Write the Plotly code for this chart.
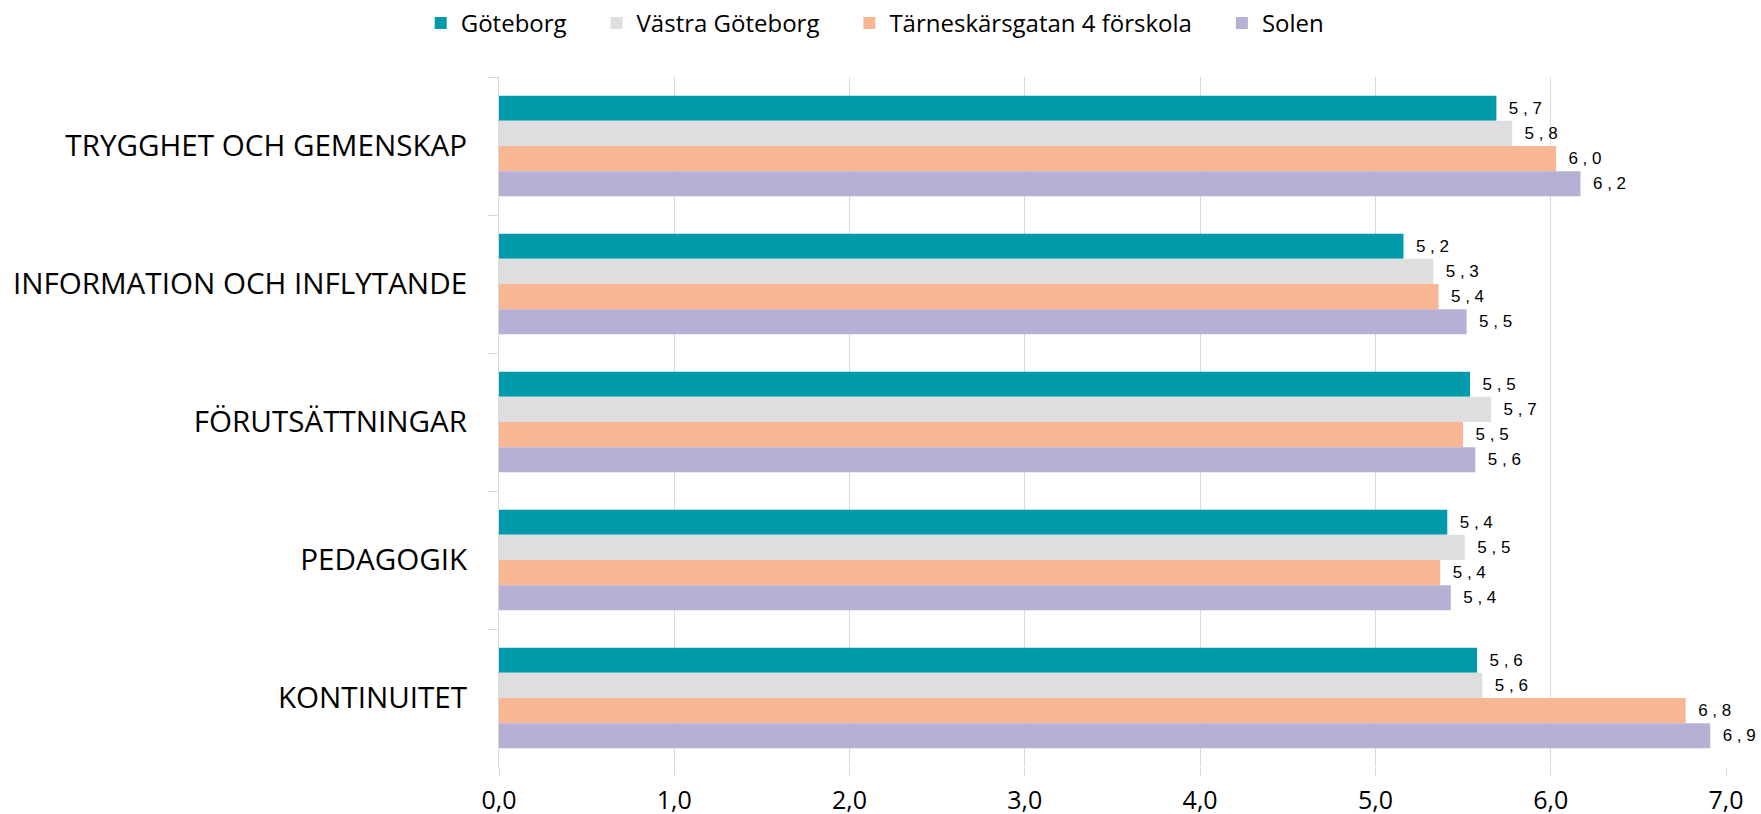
import plotly.graph_objects as go

categories = ["TRYGGHET OCH GEMENSKAP", "INFORMATION OCH INFLYTANDE", "FÖRUTSÄTTNINGAR", "PEDAGOGIK", "KONTINUITET"]
series_names = ["Göteborg", "Västra Göteborg", "Tärneskärsgatan 4 förskola", "Solen"]
goteborg = [5.69, 5.16, 5.54, 5.41, 5.58]
vastra = [5.78, 5.33, 5.66, 5.51, 5.61]
tarnesk = [6.03, 5.36, 5.50, 5.37, 6.77]
solen = [6.17, 5.52, 5.57, 5.43, 6.91]
colors = ["#009AAA", "#DEDEDE", "#F8B692", "#B5B0D4"]
x_ticks = [0, 1, 2, 3, 4, 5, 6, 7]

NB = "\u00a0"


def label(v):
    s = f"{v:.1f}".replace(".", ",")
    return NB + NB + NB.join(s)


def tick(v):
    return f"{v:.1f}".replace(".", ",")


fig = go.Figure()
all_vals = [goteborg, vastra, tarnesk, solen]
for i, (name, vals, col) in enumerate(zip(series_names, all_vals, colors)):
    legend_name = name if i == len(series_names) - 1 else name + NB * 4
    fig.add_trace(go.Bar(
        y=categories, x=vals, name=legend_name, orientation="h",
        marker=dict(color=col, line=dict(width=0)),
        text=[label(v) for v in vals], textposition="outside",
        textfont=dict(family="Liberation Sans", size=17, color="#000000"),
        constraintext="none",
        cliponaxis=False,
    ))

fig.update_layout(
    width=1761, height=814,
    paper_bgcolor="white", plot_bgcolor="white",
    barmode="group", bargap=0.27, bargroupgap=0,
    margin=dict(l=499, r=35, t=77, b=47),
    legend=dict(orientation="h", xref="container", x=0.497, xanchor="center",
                yref="container", y=0.999, yanchor="top",
                font=dict(family="Open Sans", size=24, color="#000000"),
                itemwidth=30, traceorder="normal"),
    showlegend=True,
    xaxis=dict(range=[0, 7], tickvals=x_ticks, ticktext=[tick(v) for v in x_ticks],
               automargin=False,
               showgrid=True, gridcolor="#D9D9D9", gridwidth=1,
               zeroline=False, showline=False,
               ticks="outside", ticklen=8, tickcolor="#D9D9D9",
               ticklabelstandoff=3,
               tickfont=dict(family="Open Sans", size=25, color="#000000")),
    yaxis=dict(autorange="reversed", showline=True, linecolor="#D9D9D9",
               automargin=False,
               ticks="outside", tickson="boundaries", ticklen=10, tickcolor="#D9D9D9",
               ticklabelstandoff=25,
               tickfont=dict(family="Open Sans", size=29.6, color="#000000")),
)

# remove the default page margin and scrollbars so the figure fills the window exactly
fig.write_html(
    "out.html",
    config={"displayModeBar": False},
    post_script="document.body.style.margin='0';document.body.style.overflow='hidden';",
)
